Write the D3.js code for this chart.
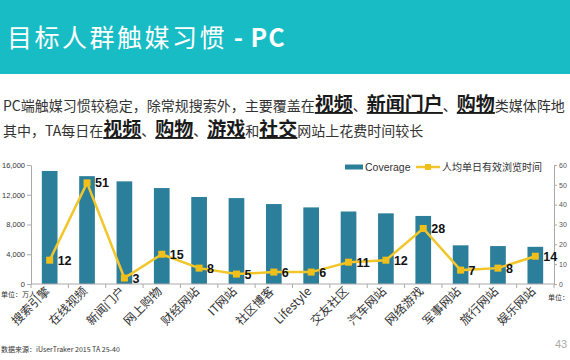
<!DOCTYPE html>
<html>
<head>
<meta charset="utf-8">
<script src="https://cdn.jsdelivr.net/npm/d3@7/dist/d3.min.js"></script>
<style>
  body { margin: 0; background: #fff; }
  svg { display: block; }
  .cn { font-family: "Noto Sans CJK SC", sans-serif; }
  .num { font-family: "Liberation Sans", Arial, sans-serif; }
</style>
</head>
<body>
<svg id="chart" width="570" height="360"></svg>
<script>
var categories = ["搜索引擎", "在线视频", "新闻门户", "网上购物", "财经网站", "IT网站", "社区博客",
                  "Lifestyle", "交友社区", "汽车网站", "网络游戏", "军事网站", "旅行网站", "娱乐网站"];
var coverage = [15200, 14500, 13800, 12900, 11700, 11550, 10750, 10300, 9750, 9500, 9150, 5200, 5100, 5000];
var dailyTime = [12, 51, 3, 15, 8, 5, 6, 6, 11, 12, 28, 7, 8, 14];
var leftTicks = [0, 4000, 8000, 12000, 16000];
var rightTicks = [0, 10, 20, 30, 40, 50, 60];

var line1 = [
    {t: "PC端触媒习惯较稳定，除常规搜索外，主要覆盖在"}, {t: "视频", b: true}, {t: "、"},
    {t: "新闻门户", b: true}, {t: "、"}, {t: "购物", b: true}, {t: "类媒体阵地"}
];
var line2 = [
    {t: "其中，TA每日在"}, {t: "视频", b: true}, {t: "、"}, {t: "购物", b: true}, {t: "、"},
    {t: "游戏", b: true}, {t: "和"}, {t: "社交", b: true}, {t: "网站上花费时间较长"}
];

var svg = d3.select("#chart");

// header
svg.append("rect").attr("x", 0).attr("y", 0).attr("width", 570).attr("height", 74).attr("fill", "#17bcc4");
var title = svg.append("text").attr("class", "cn")
    .attr("x", 7).attr("y", 47)
    .attr("fill", "#fff")
    .style("font-size", "25px")
    .style("letter-spacing", "2.5px");
title.append("tspan").text("目标人群触媒习惯");
title.append("tspan").style("font-weight", "bold").style("letter-spacing", "1px").text(" - PC");

function drawLine(parts, y) {
    var t = svg.append("text").attr("class", "cn").attr("x", 3).attr("y", y).attr("fill", "#333");
    parts.forEach(function(p) {
        t.append("tspan")
            .style("font-size", p.b ? "19px" : "14px")
            .style("font-weight", p.b ? "bold" : "normal")
            .style("text-decoration", p.b ? "underline" : "none")
            .attr("fill", p.b ? "#1a1a1a" : "#333")
            .text(p.t);
    });
}
drawLine(line1, 111);
drawLine(line2, 136);

// chart
var x = d3.scaleBand().domain(categories).range([31, 554]).paddingInner(0.58).paddingOuter(0.29);
var yL = d3.scaleLinear().domain([0, 16000]).range([284, 165]);
var yR = d3.scaleLinear().domain([0, 60]).range([284, 165]);

var g = svg.append("g");

g.selectAll(".bar").data(categories).enter().append("rect")
    .attr("class", "bar")
    .attr("x", d => x(d))
    .attr("y", (d, i) => yL(coverage[i]))
    .attr("width", x.bandwidth())
    .attr("height", (d, i) => yL(0) - yL(coverage[i]))
    .attr("fill", "#2b7f9a");

// left axis
var leftAxis = g.append("g").attr("class", "num")
    .attr("transform", "translate(31,0)")
    .call(d3.axisLeft(yL).tickValues(leftTicks).tickSize(4).tickSizeOuter(0).tickFormat(d3.format(",")));
leftAxis.selectAll("text").style("font-size", "7.5px").attr("fill", "#333").attr("x", -6);

// right axis
var rightAxis = g.append("g").attr("class", "num")
    .attr("transform", "translate(554,0)")
    .call(d3.axisRight(yR).tickValues(rightTicks).tickSize(3).tickSizeOuter(0));
rightAxis.selectAll("text").style("font-size", "7px").attr("fill", "#555").attr("x", 5);

[leftAxis, rightAxis].forEach(function(a) {
    a.select(".domain").attr("stroke", "#aaa");
    a.selectAll(".tick line").attr("stroke", "#aaa");
});

// bottom axis with ticks between categories
var step = x.step();
var bounds = categories.map(d => x(d) + x.bandwidth() / 2 - step / 2);
bounds.push(x(categories[categories.length - 1]) + x.bandwidth() / 2 + step / 2);
g.append("line").attr("x1", 31).attr("x2", 554).attr("y1", 284).attr("y2", 284).attr("stroke", "#aaa");
g.selectAll(".xtick").data(bounds).enter().append("line")
    .attr("x1", d => d).attr("x2", d => d).attr("y1", 284).attr("y2", 288).attr("stroke", "#aaa");

g.selectAll(".cat").data(categories).enter().append("text")
    .attr("class", "cn")
    .attr("transform", d => `translate(${x(d) + x.bandwidth() / 2 + 1},${292}) rotate(-45)`)
    .attr("text-anchor", "end")
    .attr("fill", "#333")
    .style("font-size", "12px")
    .text(d => d);

// line series
var pts = categories.map((d, i) => [x(d) + x.bandwidth() / 2, yR(dailyTime[i])]);
g.append("path")
    .attr("d", d3.line()(pts))
    .attr("fill", "none")
    .attr("stroke", "#f2c62a")
    .attr("stroke-width", 2.5);
g.selectAll(".mk").data(pts).enter().append("rect")
    .attr("x", d => d[0] - 3.5).attr("y", d => d[1] - 3.5)
    .attr("width", 7).attr("height", 7)
    .attr("fill", "#f0bf1a");
g.selectAll(".val").data(pts).enter().append("text")
    .attr("class", "num")
    .attr("x", d => d[0] + 8).attr("y", d => d[1] + 4.5)
    .style("font-size", "12.5px").style("font-weight", "bold")
    .attr("fill", "#111")
    .text((d, i) => dailyTime[i]);

// legend
g.append("rect").attr("x", 345).attr("y", 164.5).attr("width", 18).attr("height", 5).attr("fill", "#2b7f9a");
g.append("text").attr("class", "num").attr("x", 365).attr("y", 171)
    .style("font-size", "10.5px").attr("fill", "#333").text("Coverage");
g.append("line").attr("x1", 416).attr("x2", 440).attr("y1", 167).attr("y2", 167)
    .attr("stroke", "#f2c62a").attr("stroke-width", 2.5);
g.append("rect").attr("x", 425).attr("y", 164).attr("width", 6).attr("height", 6).attr("fill", "#f0bf1a");
g.append("text").attr("class", "cn").attr("x", 442).attr("y", 171)
    .style("font-size", "10px").attr("fill", "#333").text("人均单日有效浏览时间");

// notes
svg.append("text").attr("class", "cn").attr("x", 1).attr("y", 297)
    .style("font-size", "7px").attr("fill", "#333").text("单位：万人");
svg.append("text").attr("class", "cn").attr("x", 548).attr("y", 300)
    .style("font-size", "7px").attr("fill", "#333").text("单位：");
svg.append("text").attr("class", "cn").attr("x", 1).attr("y", 352)
    .style("font-size", "7px").attr("fill", "#333").text("数据来源：iUserTraker 2015 TA 25-40");
svg.append("text").attr("class", "num").attr("x", 555).attr("y", 348)
    .style("font-size", "11px").attr("fill", "#aaa").text("43");
</script>
</body>
</html>
